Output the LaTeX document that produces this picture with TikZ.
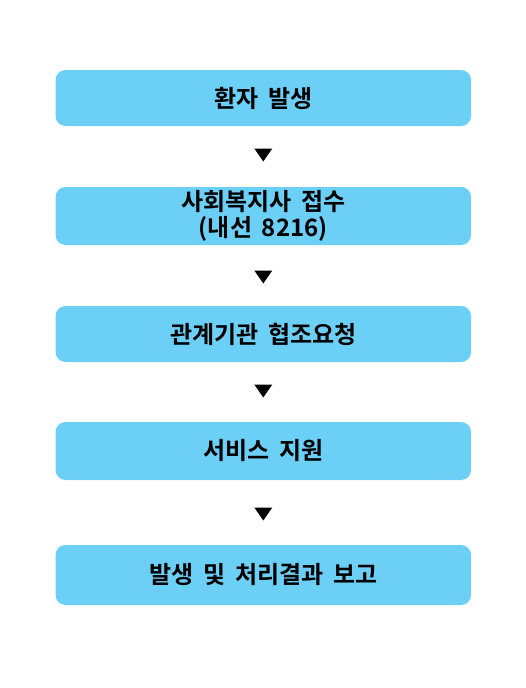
\documentclass[tikz,border=0pt]{standalone}
\usepackage{fontspec}
\setmainfont{Noto Sans CJK KR}[BoldFont={* Bold},WordSpace=1.8]
\definecolor{boxblue}{RGB}{108,207,246}
\tikzset{
  flowbox/.style={fill=boxblue, draw=none, rounded corners=10pt, minimum width=415.5pt, anchor=center, inner sep=0pt, font=\fontsize{24}{26.5}\selectfont\bfseries, align=center, text=black},
  arrowtri/.style={fill=black}
}
\begin{document}
\begin{tikzpicture}[x=1pt,y=-1pt]
\useasboundingbox (0,0) rectangle (525,688);
\node[flowbox, minimum height=56pt] (b1) at (263.3,98) {환자 발생};
\node[flowbox, minimum height=58pt] (b2) at (263.3,216) {사회복지사 접수\\(내선 8216)};
\node[flowbox, minimum height=56pt] (b3) at (263.3,334) {관계기관 협조요청};
\node[flowbox, minimum height=58pt] (b4) at (263.3,451) {서비스 지원};
\node[flowbox, minimum height=60pt] (b5) at (263.3,575) {발생 및 처리결과 보고};
\foreach \y in {155,277,391,514}{
  \fill[arrowtri] (254.3,\y-6.5) -- (272.3,\y-6.5) -- (263.3,\y+6.5) -- cycle;
}
\end{tikzpicture}
\end{document}
